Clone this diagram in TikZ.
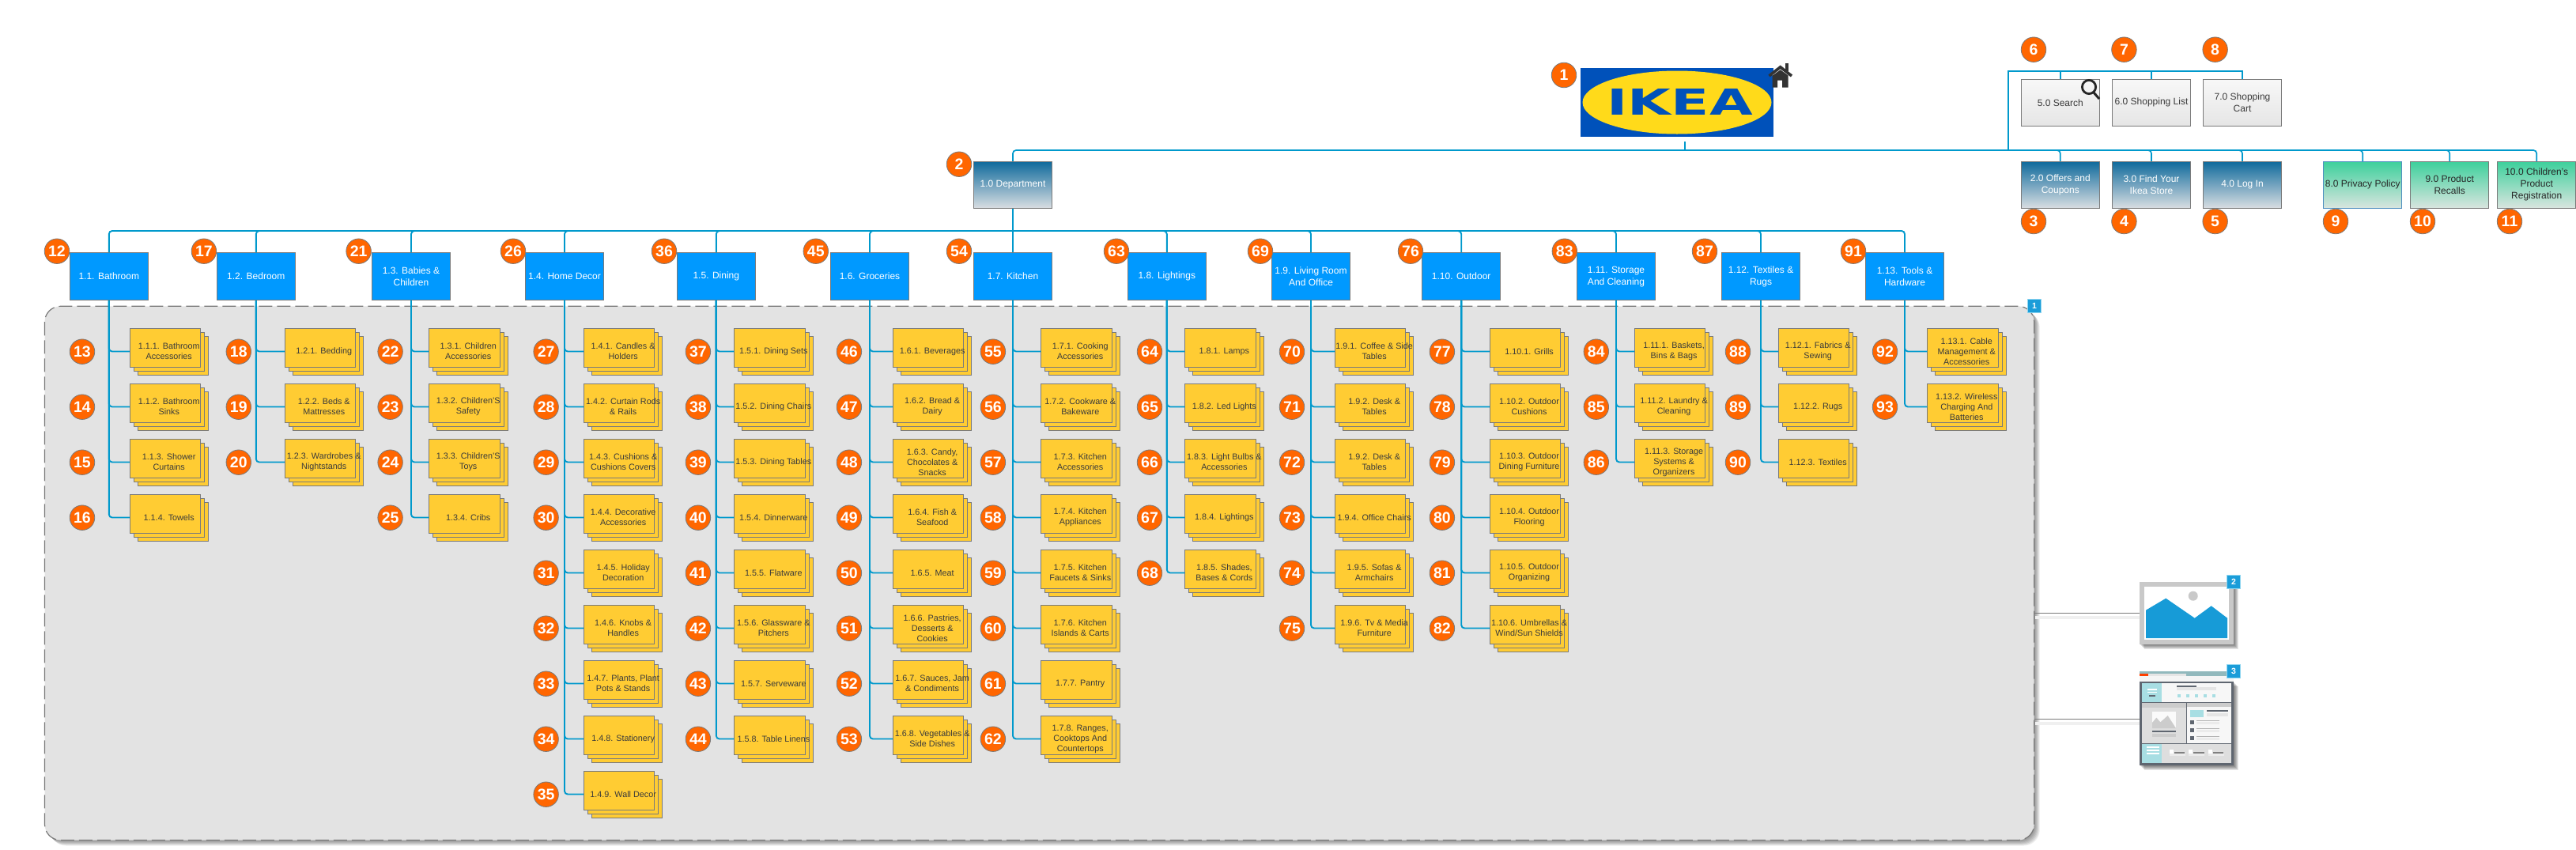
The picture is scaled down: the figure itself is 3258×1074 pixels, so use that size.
\documentclass[tikz,border=0pt]{standalone}
\usepackage{fontspec}
\usepackage{graphicx}
\setmainfont{Liberation Sans}
\newfontfamily\logofont{DejaVu Sans}
\usetikzlibrary{shapes.geometric}
\definecolor{linkc}{HTML}{0099CC}
\definecolor{edgec}{HTML}{7A7A7A}
\definecolor{headc}{HTML}{0099FF}
\definecolor{pagec}{HTML}{FFCC33}
\definecolor{badgec}{HTML}{FF6600}
\definecolor{groupc}{HTML}{E3E3E3}
\definecolor{textc}{HTML}{3A3A3A}
\definecolor{markc}{HTML}{1B9DD9}
\definecolor{markedge}{HTML}{8FD6F0}
\definecolor{wfdark}{HTML}{5F6670}
\definecolor{wfteal}{HTML}{A8DEE3}
\definecolor{wfgray}{HTML}{DEDEDE}
\definecolor{imgblue}{HTML}{179BD7}
\definecolor{imggray}{HTML}{C9C9C9}
\tikzset{
  link/.style={draw=linkc,line width=1.9pt,rounded corners=4pt},
  sharplink/.style={draw=linkc,line width=1.8pt},
  page/.style={fill=pagec,draw=edgec,line width=1pt},
  stacktext/.style={inner sep=0pt,minimum width=99.5pt,minimum height=59pt,align=center,text=textc,font=\fontsize{10.8}{13}\selectfont},
  headbox/.style={fill=headc,draw=edgec,line width=1pt,minimum width=99.2pt,minimum height=59.5pt,inner sep=0pt,align=center,text=white,font=\fontsize{12}{15}\selectfont},
  badge/.style={circle,fill=badgec,draw=edgec,line width=.8pt,minimum size=31.5pt,inner sep=0pt,text=white,font=\fontsize{19.5}{20}\selectfont\bfseries},
  topbox/.style={draw=edgec,line width=1pt,minimum width=98.5pt,minimum height=59pt,inner sep=0pt,align=center,font=\fontsize{12}{15}\selectfont},
  greybox/.style={topbox,top color=white!97!black,bottom color=white!90!black,text=textc},
  bluebox/.style={topbox,top color={rgb,255:red,15;green,106;blue,156},bottom color={rgb,255:red,217;green,222;blue,226},text=white},
  greenbox/.style={topbox,top color={rgb,255:red,61;green,208;blue,156},bottom color={rgb,255:red,217;green,229;blue,223},text=black!85},
  marker/.style={fill=markc,draw=markedge,line width=1pt,minimum size=17pt,inner sep=0pt,text=white,font=\fontsize{10.5}{11}\selectfont\bfseries},
  group/.style={fill=groupc,draw=edgec,line width=1.2pt,dash pattern=on 17pt off 6pt,rounded corners=20pt},
  softedge/.style={fill=black,opacity=.07},
  wire/.style={draw=edgec,line width=1.2pt}
}
% badge: number, x, y
\newcommand\bdg[3]{\node[badge] (b#1) at (#2,#3) {#1};}
% stack: badge number, left x, badge x, row, parent head, text
\newcommand\stk[6]{%
  \draw[page] (#2+10,415+70*#4+10) rectangle ++(89.5,49);
  \draw[page] (#2+5,415+70*#4+5) rectangle ++(89.5,49);
  \draw[page] (#2,415+70*#4) rectangle ++(89.5,49);
  \node[stacktext] (s#1) at (#2+49.75,415+70*#4+29.5) {#6};
  \bdg{#1}{#3}{444.7+70*#4}
  \draw[link] (#5.south) |- (s#1.west);
}
% header: node name, centre x, text, badge, badge x
\newcommand\hd[5]{%
  \node[headbox] (#1) at (#2,349.7) {#3};
  \bdg{#4}{#5}{317.7}
  \draw[link] (busB) -| (#1.north);
}
\begin{document}
\begin{tikzpicture}[x=1pt,y=-1pt]
\useasboundingbox (0,0) rectangle (3258,1074);
% big group
\foreach \i in {7,6,...,1}
  \fill[softedge,rounded corners=20pt] (56.5+\i,387.3+\i) rectangle (2572.7+\i,1062.5+\i);
\path[group] (56.5,387.3) rectangle (2572.7,1062.5);
\node[marker] (m1) at (2573,386.8) {1};
% logo
\node[fill={rgb,255:red,0;green,81;blue,186},minimum width=244.3pt,minimum height=87.3pt,inner sep=0pt] (logo) at (2120.9,129.7) {};
\node[ellipse,fill={rgb,255:red,255;green,218;blue,26},minimum width=239pt,minimum height=80pt,inner sep=0pt] (oval) at (2121,129.5) {};
\node[inner sep=0pt,text={rgb,255:red,0;green,81;blue,186}] (logotext) at (2124.7,128.7) {\resizebox{184pt}{33pt}{\logofont\bfseries IKEA}};
\bdg{1}{1978}{95}
% home icon
\fill[black!80] (2257.7,80) rectangle (2262,90);
\fill[black!80] (2241.7,93) -- (2251.7,85) -- (2261.7,93) -- (2261.7,110.7) -- (2254,110.7) -- (2254,101.7) -- (2248,101.7) -- (2248,110.7) -- (2241.7,110.7) -- cycle;
\draw[white,line width=.8pt] (2241.5,95) -- (2251.7,87.6) -- (2262,95);
\draw[black!80,line width=3.6pt] (2237.5,96) -- (2251.7,84.8) -- (2266,96);
% top level boxes
\coordinate (root) at (2131,179);
\coordinate (busT) at (2131,190);
\coordinate (jn) at (2540,190);
\coordinate (jnt) at (2540,90);
\node[bluebox] (d10) at (1281,233.8) {1.0 Department};
\node[bluebox] (d20) at (2605.8,233.8) {2.0 Offers and\\Coupons};
\node[bluebox] (d30) at (2721,233.8) {3.0 Find Your\\Ikea Store};
\node[bluebox] (d40) at (2836,233.8) {4.0 Log In};
\node[greybox] (d50) at (2605.8,129.8) {5.0 Search};
\node[greybox] (d60) at (2721,129.8) {6.0 Shopping List};
\node[greybox] (d70) at (2836,129.8) {7.0 Shopping\\Cart};
\node[greenbox,draw={rgb,255:red,79;green,143;blue,192}] (d80) at (2988.2,233.8) {8.0 Privacy Policy};
\node[greenbox] (d90) at (3098.2,233.8) {9.0 Product\\Recalls};
\node[greenbox] (d100) at (3208.2,233.8) {10.0 Children's\\Product\\Registration};
% search icon
\draw[black!85,line width=2.8pt] (2642,110) circle (8.6pt);
\draw[black!85,line width=3pt] (2648,117) -- (2655,125);
% top connectors
\draw[sharplink] (root) -- (busT);
\foreach \n in {d10,d20,d30,d40,d80,d90,d100}
  \draw[link,line width=1.7pt] (busT) -| (\n.north);
\draw[sharplink] (busT) -- (jn) -- (jnt) -| (d70.north);
\draw[sharplink] (jnt) -| (d50.north);
\draw[sharplink] (jnt) -| (d60.north);
\bdg{2}{1213}{207.7}
\bdg{3}{2572}{280}
\bdg{4}{2686.4}{280}
\bdg{5}{2801.6}{280}
\bdg{6}{2572}{62.7}
\bdg{7}{2686.4}{62.7}
\bdg{8}{2801.6}{62.7}
\bdg{9}{2954}{280}
\bdg{10}{3064}{280}
\bdg{11}{3174}{280}
% second bus
\coordinate (busB) at (1281,292);
\draw[link,line width=2.2pt] (d10.south) -- (busB);
\hd{h11}{137.8}{1.1. Bathroom}{12}{72}
\hd{h12}{323.8}{1.2. Bedroom}{17}{257.9}
\hd{h13}{520}{1.3. Babies \&\\Children}{21}{453.6}
\hd{h14}{714}{1.4. Home Decor}{26}{649}
\hd{h15}{905.8}{1.5. Dining}{36}{840}
\hd{h16}{1100}{1.6. Groceries}{45}{1031.8}
\hd{h17}{1281}{1.7. Kitchen}{54}{1213}
\hd{h18}{1475.8}{1.8. Lightings}{63}{1412}
\hd{h19}{1658}{1.9. Living Room\\And Office}{69}{1594}
\hd{h110}{1848.2}{1.10. Outdoor}{76}{1784}
\hd{h111}{2044}{1.11. Storage\\And Cleaning}{83}{1978.8}
\hd{h112}{2227}{1.12. Textiles \&\\Rugs}{87}{2156}
\hd{h113}{2409}{1.13. Tools \&\\Hardware}{91}{2344}
% leaf stacks
\stk{13}{164}{104}{0}{h11}{1.1.1. Bathroom\\Accessories}
\stk{14}{164}{104}{1}{h11}{1.1.2. Bathroom\\Sinks}
\stk{15}{164}{104}{2}{h11}{1.1.3. Shower\\Curtains}
\stk{16}{164}{104}{3}{h11}{1.1.4. Towels}
\stk{18}{360}{301.8}{0}{h12}{1.2.1. Bedding}
\stk{19}{360}{301.8}{1}{h12}{1.2.2. Beds \&\\Mattresses}
\stk{20}{360}{301.8}{2}{h12}{1.2.3. Wardrobes \&\\Nightstands}
\stk{22}{542.5}{493.6}{0}{h13}{1.3.1. Children\\Accessories}
\stk{23}{542.5}{493.6}{1}{h13}{1.3.2. Children'S\\Safety}
\stk{24}{542.5}{493.6}{2}{h13}{1.3.3. Children'S\\Toys}
\stk{25}{542.5}{493.6}{3}{h13}{1.3.4. Cribs}
\stk{27}{738.4}{690.6}{0}{h14}{1.4.1. Candles \&\\Holders}
\stk{28}{738.4}{690.6}{1}{h14}{1.4.2. Curtain Rods\\\& Rails}
\stk{29}{738.4}{690.6}{2}{h14}{1.4.3. Cushions \&\\Cushions Covers}
\stk{30}{738.4}{690.6}{3}{h14}{1.4.4. Decorative\\Accessories}
\stk{31}{738.4}{690.6}{4}{h14}{1.4.5. Holiday\\Decoration}
\stk{32}{738.4}{690.6}{5}{h14}{1.4.6. Knobs \&\\Handles}
\stk{33}{738.4}{690.6}{6}{h14}{1.4.7. Plants, Plant\\Pots \& Stands}
\stk{34}{738.4}{690.6}{7}{h14}{1.4.8. Stationery}
\stk{35}{738.4}{690.6}{8}{h14}{1.4.9. Wall Decor}
\stk{37}{928.6}{882.9}{0}{h15}{1.5.1. Dining Sets}
\stk{38}{928.6}{882.9}{1}{h15}{1.5.2. Dining Chairs}
\stk{39}{928.6}{882.9}{2}{h15}{1.5.3. Dining Tables}
\stk{40}{928.6}{882.9}{3}{h15}{1.5.4. Dinnerware}
\stk{41}{928.6}{882.9}{4}{h15}{1.5.5. Flatware}
\stk{42}{928.6}{882.9}{5}{h15}{1.5.6. Glassware \&\\Pitchers}
\stk{43}{928.6}{882.9}{6}{h15}{1.5.7. Serveware}
\stk{44}{928.6}{882.9}{7}{h15}{1.5.8. Table Linens}
\stk{46}{1129.4}{1073.9}{0}{h16}{1.6.1. Beverages}
\stk{47}{1129.4}{1073.9}{1}{h16}{1.6.2. Bread \&\\Dairy}
\stk{48}{1129.4}{1073.9}{2}{h16}{1.6.3. Candy,\\Chocolates \&\\Snacks}
\stk{49}{1129.4}{1073.9}{3}{h16}{1.6.4. Fish \&\\Seafood}
\stk{50}{1129.4}{1073.9}{4}{h16}{1.6.5. Meat}
\stk{51}{1129.4}{1073.9}{5}{h16}{1.6.6. Pastries,\\Desserts \&\\Cookies}
\stk{52}{1129.4}{1073.9}{6}{h16}{1.6.7. Sauces, Jam\\\& Condiments}
\stk{53}{1129.4}{1073.9}{7}{h16}{1.6.8. Vegetables \&\\Side Dishes}
\stk{55}{1316.5}{1255.9}{0}{h17}{1.7.1. Cooking\\Accessories}
\stk{56}{1316.5}{1255.9}{1}{h17}{1.7.2. Cookware \&\\Bakeware}
\stk{57}{1316.5}{1255.9}{2}{h17}{1.7.3. Kitchen\\Accessories}
\stk{58}{1316.5}{1255.9}{3}{h17}{1.7.4. Kitchen\\Appliances}
\stk{59}{1316.5}{1255.9}{4}{h17}{1.7.5. Kitchen\\Faucets \& Sinks}
\stk{60}{1316.5}{1255.9}{5}{h17}{1.7.6. Kitchen\\Islands \& Carts}
\stk{61}{1316.5}{1255.9}{6}{h17}{1.7.7. Pantry}
\stk{62}{1316.5}{1255.9}{7}{h17}{1.7.8. Ranges,\\Cooktops And\\Countertops}
\stk{64}{1498.6}{1454}{0}{h18}{1.8.1. Lamps}
\stk{65}{1498.6}{1454}{1}{h18}{1.8.2. Led Lights}
\stk{66}{1498.6}{1454}{2}{h18}{1.8.3. Light Bulbs \&\\Accessories}
\stk{67}{1498.6}{1454}{3}{h18}{1.8.4. Lightings}
\stk{68}{1498.6}{1454}{4}{h18}{1.8.5. Shades,\\Bases \& Cords}
\stk{70}{1688.4}{1634}{0}{h19}{1.9.1. Coffee \& Side\\Tables}
\stk{71}{1688.4}{1634}{1}{h19}{1.9.2. Desk \&\\Tables}
\stk{72}{1688.4}{1634}{2}{h19}{1.9.2. Desk \&\\Tables}
\stk{73}{1688.4}{1634}{3}{h19}{1.9.4. Office Chairs}
\stk{74}{1688.4}{1634}{4}{h19}{1.9.5. Sofas \&\\Armchairs}
\stk{75}{1688.4}{1634}{5}{h19}{1.9.6. Tv \& Media\\Furniture}
\stk{77}{1884.3}{1823.9}{0}{h110}{1.10.1. Grills}
\stk{78}{1884.3}{1823.9}{1}{h110}{1.10.2. Outdoor\\Cushions}
\stk{79}{1884.3}{1823.9}{2}{h110}{1.10.3. Outdoor\\Dining Furniture}
\stk{80}{1884.3}{1823.9}{3}{h110}{1.10.4. Outdoor\\Flooring}
\stk{81}{1884.3}{1823.9}{4}{h110}{1.10.5. Outdoor\\Organizing}
\stk{82}{1884.3}{1823.9}{5}{h110}{1.10.6. Umbrellas \&\\Wind/Sun Shields}
\stk{84}{2067.3}{2018.8}{0}{h111}{1.11.1. Baskets,\\Bins \& Bags}
\stk{85}{2067.3}{2018.8}{1}{h111}{1.11.2. Laundry \&\\Cleaning}
\stk{86}{2067.3}{2018.8}{2}{h111}{1.11.3. Storage\\Systems \&\\Organizers}
\stk{88}{2249.4}{2198}{0}{h112}{1.12.1. Fabrics \&\\Sewing}
\stk{89}{2249.4}{2198}{1}{h112}{1.12.2. Rugs}
\stk{90}{2249.4}{2198}{2}{h112}{1.12.3. Textiles}
\stk{92}{2437.5}{2384}{0}{h113}{1.13.1. Cable\\Management \&\\Accessories}
\stk{93}{2437.5}{2384}{1}{h113}{1.13.2. Wireless\\Charging And\\Batteries}
% legend icons
\coordinate (gr1) at (2572.7,775.3);
\coordinate (gr2) at (2572.7,909.3);
\coordinate (ic1) at (2706,775.3);
\coordinate (ic2) at (2706,909.3);
\draw[black!6,line width=4pt] (2574,781) -- (2706,781);
\draw[black!6,line width=4pt] (2574,915) -- (2706,915);
\draw[wire] (gr1) -- (ic1);
\draw[wire] (gr2) -- (ic2);
\foreach \i in {6,5,...,1}{
  \fill[softedge,opacity=.1] (2706+\i,736+\i) rectangle (2825+\i,815+\i);
  \fill[softedge,opacity=.1] (2706+\i,862+\i) rectangle (2825+\i,968+\i);
}
\fill[imggray] (2706,736) rectangle (2825,815);
\fill[white] (2712,742) rectangle (2819,809);
\fill[imgblue] (2714,771.7) -- (2739.3,756.7) -- (2775.7,781.7) -- (2796.7,766.3) -- (2817,781.7) -- (2817,807) -- (2714,807) -- cycle;
\fill[imggray] (2773.7,753.7) circle (6pt);
\node[marker] (m2) at (2825,736) {2};
\begin{scope}[shift={(2500,720)},x=.33333pt,y=-.33333pt]
  % browser bars
  \fill[wfteal!80!black!90] (618,388) rectangle (975,405);
  \fill[red!50!orange] (618,397) rectangle (650,405);
  \fill[black!10] (650,397) rectangle (796,405);
  \fill[black!4] (618,405) rectangle (975,425);
  \fill[wfdark] (618,425) rectangle (975,744);
  % top row
  \fill[black!3] (627,432) rectangle (966,503);
  \fill[wfteal] (627,432) rectangle (703,503);
  \fill[white] (647,453) rectangle (685,458);
  \fill[white] (647,464) rectangle (685,469);
  \fill[wfdark] (655,478) rectangle (677,483);
  \fill[wfdark] (758,441) rectangle (834,446);
  \fill[black!10] (758,448) rectangle (908,460);
  \foreach \x in {762,795,828,861,894} \fill[wfteal] (\x,473) rectangle +(13,13);
  % middle row
  \fill[wfgray] (627,507) rectangle (795,659);
  \fill[black!20] (627,507) rectangle (795,524);
  \fill[black!2] (666,541) rectangle (756,603);
  \fill[black!20] (666,603) -- (666,582) -- (682,563) -- (697,580) -- (725,555) -- (756,603) -- cycle;
  \fill[wfdark] (666,612) rectangle (756,618);
  \fill[black!20] (666,624) rectangle (756,636);
  \fill[black!3] (799,507) rectangle (966,659);
  \fill[black!20] (799,507) rectangle (966,522);
  \fill[wfteal] (809,534) rectangle (862,561);
  \fill[wfdark] (873,534) rectangle (954,539);
  \fill[black!10] (873,545) rectangle (954,557);
  \foreach \y in {572,602,632}{
    \fill[wfdark] (809,\y) rectangle +(16,16);
    \fill[black!30] (834,\y+1) rectangle +(87,3);
    \fill[black!8] (834,\y+7) rectangle +(87,10);
  }
  % bottom row
  \fill[wfgray] (627,663) rectangle (966,734);
  \fill[wfteal] (627,663) rectangle (703,734);
  \foreach \y in {673,685,696} \fill[white] (645,\y) rectangle +(48,5);
  \foreach \x in {731,804,878}{
    \fill[white] (\x,684) rectangle +(15,15);
    \fill[black!50] (\x+19,694) rectangle +(40,4);
    \fill[black!8] (\x,700) rectangle +(60,8);
  }
\end{scope}
\node[marker] (m3) at (2825,849) {3};
\end{tikzpicture}
\end{document}
